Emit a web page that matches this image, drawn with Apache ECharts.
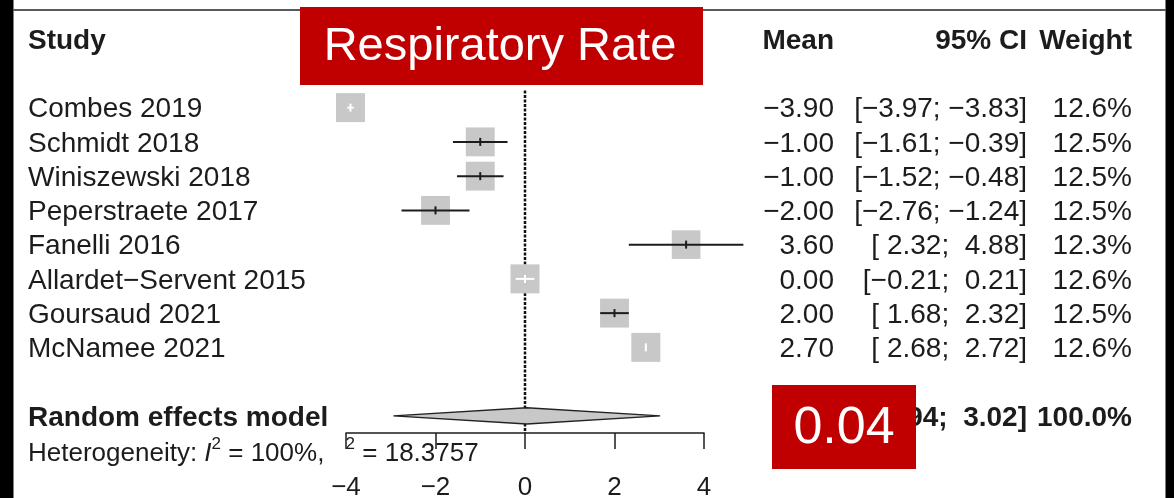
<!DOCTYPE html>
<html>
<head>
<meta charset="utf-8">
<title>Respiratory Rate forest plot</title>
<script src="https://cdn.jsdelivr.net/npm/echarts@6/dist/echarts.min.js"></script>
<style>
  html, body { margin: 0; padding: 0; background: #fff; }
  #chart { width: 1174px; height: 498px; }
</style>
</head>
<body>
<div id="chart"></div>
<script>
// ---- data ----
const title = 'Respiratory Rate';
const studies = ['Combes 2019', 'Schmidt 2018', 'Winiszewski 2018', 'Peperstraete 2017',
                 'Fanelli 2016', 'Allardet\u2212Servent 2015', 'Goursaud 2021', 'McNamee 2021'];
const means   = [-3.90, -1.00, -1.00, -2.00, 3.60,  0.00, 2.00, 2.70];
const lowers  = [-3.97, -1.61, -1.52, -2.76, 2.32, -0.21, 1.68, 2.68];
const uppers  = [-3.83, -0.39, -0.48, -1.24, 4.88,  0.21, 2.32, 2.72];
const weights = [12.6, 12.5, 12.5, 12.5, 12.3, 12.6, 12.5, 12.6];
const pooledLabel = 'Random effects model';
const pooledMean = 0.04;
const pooledLower = -2.94;
const pooledUpper = 3.02;
const pooledWeight = 100.0;
const i2Text = '100%';
const tau2Text = '18.3757';
const xTicks = [-4, -2, 0, 2, 4];
const headers = ['Study', 'Mean', '95% CI', 'Weight'];

// ---- styling ----
const FONT = "'Liberation Sans', Arial, Helvetica, sans-serif";
const INK = '#1c1c1c';
const BOX = '#c8c8c8';
const RED = '#c00000';

// table columns (left edge of study names, right edges of numeric columns)
const COL_STUDY = 28, COL_MEAN = 834, COL_CI = 1027, COL_WEIGHT = 1132;
const TEXT_DY = 2; // optical centring of cap height on the row line

// row layout on the inverted y axis
const headerRow = 0;
const studyRows = studies.map((_, i) => i + 2);
const pooledRow = studyRows[studyRows.length - 1] + 2;

function fmt(v) { return (v < 0 ? '\u2212' : '') + Math.abs(v).toFixed(2); }
function padded(v) { return v < 0 ? fmt(v) : ' ' + fmt(v); }
function ciText(lo, hi) { return '[' + padded(lo) + '; ' + padded(hi) + ']'; }
function tickText(v) { return v < 0 ? '\u2212' + Math.abs(v) : String(v); }

const maxWeight = Math.max(...weights);

function txt(x, y, text, align, bold, size) {
  return {
    type: 'text', x: x, y: y,
    style: {
      text: text, fill: INK,
      font: (bold ? 'bold ' : '') + (size || 28) + 'px ' + FONT,
      align: align, verticalAlign: 'middle',
      textAlign: align, textVerticalAlign: 'middle'
    }
  };
}

// table rows built from the arrays above
const tableRows = [
  { row: headerRow, bold: true, cells: headers },
  ...studies.map((s, i) => ({
    row: studyRows[i], bold: false,
    cells: [s, fmt(means[i]), ciText(lowers[i], uppers[i]), weights[i].toFixed(1) + '%']
  })),
  { row: pooledRow, bold: true,
    cells: [pooledLabel, fmt(pooledMean), ciText(pooledLower, pooledUpper), pooledWeight.toFixed(1) + '%'] }
];

const chart = echarts.init(document.getElementById('chart'), null, { renderer: 'canvas' });

const option = {
  animation: false,
  backgroundColor: '#fff',
  grid: { left: 346, right: 470, top: 4.875, bottom: 65, containLabel: false, outerBoundsMode: 'none' },
  xAxis: {
    type: 'value', min: xTicks[0], max: xTicks[xTicks.length - 1], interval: 2,
    position: 'bottom',
    axisLine: { show: true, onZero: false, lineStyle: { color: INK, width: 1.5 } },
    axisTick: { show: true, length: 16, lineStyle: { color: INK, width: 1.5 } },
    axisLabel: { margin: 42, fontSize: 26, fontFamily: FONT, color: INK, formatter: tickText },
    splitLine: { show: false }
  },
  yAxis: { type: 'value', inverse: true, min: -1, max: 11.5, show: false },
  series: [
    // dotted line of no effect
    {
      type: 'custom', clip: false, z: 1,
      data: [[0, studyRows[0] - 0.5, pooledRow + 0.5]],
      renderItem(params, api) {
        const p1 = api.coord([api.value(0), api.value(1)]);
        const p2 = api.coord([api.value(0), api.value(2)]);
        return {
          type: 'line',
          shape: { x1: p1[0], y1: p1[1], x2: p2[0], y2: p2[1] },
          style: { stroke: '#111', lineWidth: 2.5, lineDash: [3, 1.5] }
        };
      }
    },
    // study boxes and confidence intervals
    {
      type: 'custom', clip: false, z: 3,
      data: studies.map((s, i) => [means[i], lowers[i], uppers[i], weights[i], studyRows[i]]),
      renderItem(params, api) {
        const m = api.value(0), lo = api.value(1), hi = api.value(2), w = api.value(3), r = api.value(4);
        const c = api.coord([m, r]);
        const xl = api.coord([lo, r])[0], xh = api.coord([hi, r])[0];
        const side = 29 * Math.sqrt(w / maxWeight);
        // interval drawn in white only when it sits well inside its box
        const inside = xl > c[0] - side / 2 + 1 && xh < c[0] + side / 2 - 1;
        const stroke = inside ? '#fff' : INK;
        return {
          type: 'group',
          children: [
            { type: 'rect', shape: { x: c[0] - side / 2, y: c[1] - side / 2, width: side, height: side },
              style: { fill: BOX } },
            { type: 'line', shape: { x1: xl, y1: c[1], x2: xh, y2: c[1] },
              style: { stroke: stroke, lineWidth: 2 } },
            { type: 'line', shape: { x1: c[0], y1: c[1] - 4, x2: c[0], y2: c[1] + 4 },
              style: { stroke: stroke, lineWidth: 2 } }
          ]
        };
      }
    },
    // pooled estimate diamond
    {
      type: 'custom', clip: false, z: 3,
      data: [[pooledMean, pooledLower, pooledUpper, pooledRow]],
      renderItem(params, api) {
        const r = api.value(3);
        const c = api.coord([api.value(0), r]);
        const xl = api.coord([api.value(1), r])[0], xh = api.coord([api.value(2), r])[0];
        return {
          type: 'polygon',
          shape: { points: [[xl, c[1]], [c[0], c[1] - 8], [xh, c[1]], [c[0], c[1] + 8]] },
          style: { fill: BOX, stroke: '#222', lineWidth: 1.5 }
        };
      }
    },
    // table text
    {
      type: 'custom', clip: false, z: 4,
      data: tableRows.map(t => [0, t.row]),
      renderItem(params, api) {
        const t = tableRows[params.dataIndex];
        const y = api.coord([0, api.value(1)])[1] + TEXT_DY;
        return {
          type: 'group',
          children: [
            txt(COL_STUDY, y, t.cells[0], 'left', t.bold),
            txt(COL_MEAN, y, t.cells[1], 'right', t.bold),
            txt(COL_CI, y, t.cells[2], 'right', t.bold),
            txt(COL_WEIGHT, y, t.cells[3], 'right', t.bold)
          ]
        };
      }
    },
    // heterogeneity statistics
    {
      type: 'custom', clip: false, z: 4,
      data: [[0, pooledRow + 1.06]],
      renderItem(params, api) {
        const y = api.coord([0, api.value(1)])[1] + TEXT_DY;
        return {
          type: 'text', x: COL_STUDY, y: y,
          style: {
            text: '{n|Heterogeneity: }{i|I}{s|2}{n| = ' + i2Text + ', }{g| }{s|2}{n| = ' + tau2Text + '}',
            fill: INK, align: 'left', verticalAlign: 'middle',
            textAlign: 'left', textVerticalAlign: 'middle',
            rich: {
              n: { fontSize: 26, fontFamily: FONT, color: INK, lineHeight: 36, verticalAlign: 'middle' },
              i: { fontSize: 26, fontFamily: FONT, fontStyle: 'italic', color: INK, lineHeight: 36, verticalAlign: 'middle' },
              s: { fontSize: 17, fontFamily: FONT, color: INK, lineHeight: 17, verticalAlign: 'top' },
              g: { fontSize: 26, fontFamily: FONT, width: 14, lineHeight: 36 }
            }
          }
        };
      }
    }
  ],
  graphic: [
    // frame: dark side bands and top rule
    { type: 'rect', z: 10, shape: { x: 0, y: 0, width: 13.5, height: 498 }, style: { fill: '#000' } },
    { type: 'rect', z: 10, shape: { x: 1165.5, y: 0, width: 8.5, height: 498 }, style: { fill: '#000' } },
    { type: 'line', z: 10, shape: { x1: 13.5, y1: 10, x2: 1165.5, y2: 10 }, style: { stroke: '#222', lineWidth: 1.5 } },
    // title banner
    { type: 'rect', z: 20, shape: { x: 300, y: 7, width: 403, height: 78 }, style: { fill: RED } },
    { type: 'text', z: 21, x: 500, y: 47,
      style: { text: title, fill: '#fff', font: '47px ' + FONT,
               align: 'center', verticalAlign: 'middle', textAlign: 'center', textVerticalAlign: 'middle' } },
    // pooled mean callout
    { type: 'rect', z: 20, shape: { x: 772, y: 385, width: 144, height: 84 }, style: { fill: RED } },
    { type: 'text', z: 21, x: 844, y: 429,
      style: { text: fmt(pooledMean), fill: '#fff', font: '52px ' + FONT,
               align: 'center', verticalAlign: 'middle', textAlign: 'center', textVerticalAlign: 'middle' } }
  ]
};

chart.setOption(option);
</script>
</body>
</html>
